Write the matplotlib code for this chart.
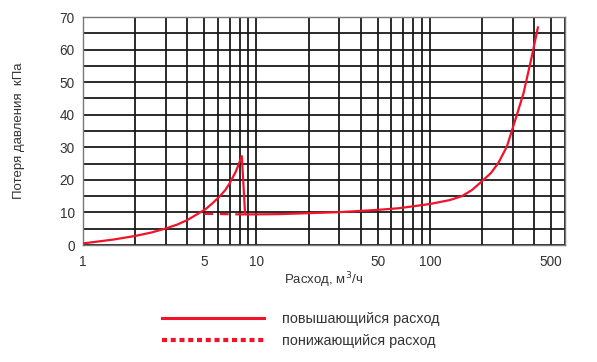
import matplotlib
matplotlib.use("Agg")
import matplotlib.pyplot as plt
from matplotlib.lines import Line2D
from matplotlib.ticker import LogLocator, FixedLocator, NullFormatter

plt.rcParams["font.family"] = ["Liberation Sans", "DejaVu Sans"]

# flow, m3/h  and pressure loss, kPa  (increasing flow)
flow_up = [1, 1.5, 2, 2.5, 3, 3.5, 4, 4.5, 5.1, 5.6, 6.1, 6.6, 7.0, 7.6,
           8.24, 8.61, 13.5, 20, 30, 50, 66, 100, 130, 153, 175, 198,
           225, 249, 278, 311, 347, 387, 420]
loss_up = [0.5, 1.7, 2.8, 3.9, 5.1, 6.3, 7.7, 9.3, 11.05, 12.9, 14.8,
           16.8, 18.9, 22.5, 27.3, 9.4, 9.5, 9.8, 10.1, 10.8, 11.3, 12.6,
           13.8, 15.0, 16.9, 19.4, 22.1, 25.3, 30.2, 38.4, 46.6, 57.8,
           66.8]
# decreasing flow branch
flow_down = [5.0, 8.61]
loss_down = [9.6, 9.4]

x_ticks = [1, 5, 10, 50, 100, 500]
x_labels = ["1", "5", "10", "50", "100", "500"]
legend_labels = ["повышающийся расход", "понижающийся расход"]

RED = "#f2132b"
GRID = "#1a1a1a"
TXT = "#333333"

fig = plt.figure(figsize=(5.97, 3.62), dpi=100)
ax = fig.add_axes([0.139, 0.323, 0.807, 0.630])

ax.plot(flow_up, loss_up, color=RED, lw=1.6, zorder=3)
ax.plot(flow_down, loss_down, color=RED, lw=1.6, dashes=(4, 3), zorder=3)

ax.set_xscale("log")
ax.set_xlim(1, 600)
ax.set_ylim(0, 70)

ax.xaxis.set_major_locator(FixedLocator(x_ticks))
ax.set_xticklabels(x_labels)
ax.xaxis.set_minor_locator(LogLocator(base=10, subs=range(2, 10), numticks=20))
ax.xaxis.set_minor_formatter(NullFormatter())
ax.set_yticks(range(0, 71, 10))
ax.set_yticks(range(5, 70, 10), minor=True)

ax.grid(True, which="both", color=GRID, lw=1.3)
ax.tick_params(which="both", length=0, labelsize=9.8, labelcolor=TXT)
ax.tick_params(axis="y", pad=6)
ax.tick_params(axis="x", pad=7)
for s in ax.spines.values():
    s.set_color("#777777")
    s.set_linewidth(1.0)

ax.set_xlabel("Расход, м$^3$/ч", fontsize=9.5, color=TXT, labelpad=1)
ax.set_ylabel("Потеря давления  кПа", fontsize=9.5, color=TXT, labelpad=25)

handles = [Line2D([], [], color=RED, lw=2.2),
           Line2D([], [], color=RED, lw=3.0, dashes=(1.2, 0.9))]
fig.legend(handles, legend_labels, loc="upper left",
           bbox_to_anchor=(0.249, 0.175), frameon=False, fontsize=10.4,
           handlelength=7.1, handletextpad=1.2, labelspacing=0.6,
           labelcolor=TXT)

fig.savefig("out.png", dpi=100)
